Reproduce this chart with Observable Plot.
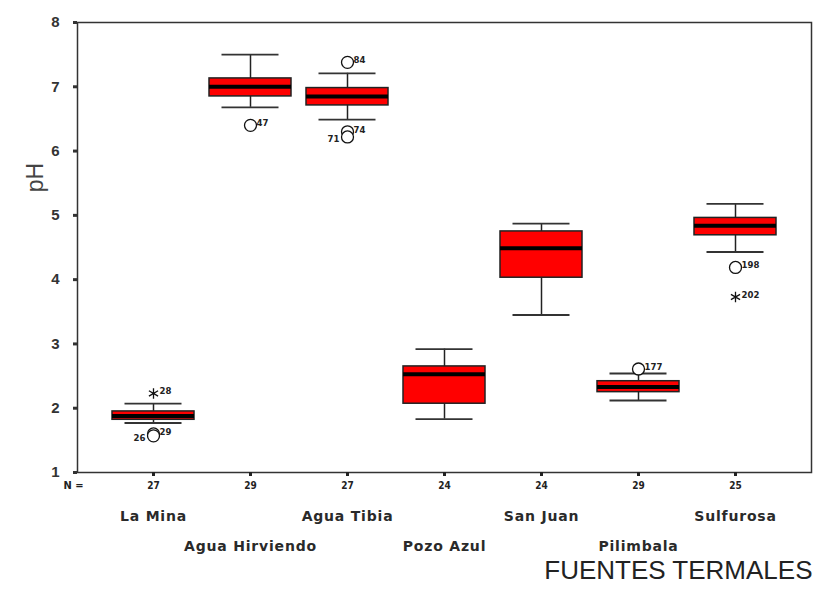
<!DOCTYPE html>
<html><head><meta charset="utf-8">
<script src="https://cdn.jsdelivr.net/npm/d3@7"></script>
<script src="https://cdn.jsdelivr.net/npm/@observablehq/plot@0.6"></script>
<style>body{margin:0;background:#fff}</style>
</head><body><div id="chart"></div>
<script>
const fuentes = ["La Mina","Agua Hirviendo","Agua Tibia","Pozo Azul","San Juan","Pilimbala","Sulfurosa"];
const nCount  = [27, 29, 27, 24, 24, 29, 25];
const lowW    = [1.77, 6.68, 6.49, 1.83, 3.45, 2.12, 4.43];
const q1      = [1.82, 6.85, 6.71, 2.07, 4.03, 2.25, 4.69];
const median  = [1.88, 7.00, 6.85, 2.53, 4.49, 2.33, 4.84];
const q3      = [1.95, 7.13, 6.98, 2.65, 4.75, 2.42, 4.96];
const highW   = [2.07, 7.50, 7.21, 2.92, 4.87, 2.54, 5.18];
// outliers
const outFuente = ["La Mina","La Mina","La Mina","Agua Hirviendo","Agua Tibia","Agua Tibia","Agua Tibia","Pilimbala","Sulfurosa","Sulfurosa"];
const outValue  = [2.23, 1.60, 1.57, 6.40, 7.38, 6.30, 6.22, 2.61, 4.19, 3.73];
const outLabel  = ["28", "29", "26", "47", "84", "74", "71", "177", "198", "202"];
const outKind   = ["extreme","outlier","outlier","outlier","outlier","outlier","outlier","outlier","outlier","extreme"];
const yTicks = [1,2,3,4,5,6,7,8];

const boxes = fuentes.map((f,i)=>({f, n:nCount[i], lo:lowW[i], q1:q1[i], med:median[i], q3:q3[i], hi:highW[i]}));
const outs = outFuente.map((f,i)=>({f, v:outValue[i], lab:outLabel[i], kind:outKind[i]}));
// second label of a stacked pair goes on the left of its marker
const stacked = outs.filter((d,i)=> i>0 && outs[i-1].f===d.f && Math.abs(outs[i-1].v-d.v)<0.1);
const single = outs.filter(d=>!stacked.includes(d));
const nMap = new Map(boxes.map(b=>[b.f,b.n]));
const even = fuentes.filter((d,i)=>i%2===0);
const odd = fuentes.filter((d,i)=>i%2===1);
const smallFont = "DejaVu Sans Condensed, DejaVu Sans, sans-serif";
const nameStyle = {tickSize: 0, fontSize: 14, fontWeight: "bold", fontFamily: "DejaVu Sans, sans-serif", color: "#2a2a2a", label: null};

const chart = Plot.plot({
  width: 816, height: 590,
  marginLeft: 77, marginRight: 5, marginTop: 22, marginBottom: 118,
  style: {fontFamily: "Liberation Sans, Arial, sans-serif", background: "#fff"},
  x: {type: "band", domain: fuentes, paddingInner: 0.155, paddingOuter: 0.361},
  y: {domain: [1, 8]},
  marks: [
    Plot.frame({stroke: "#333", strokeWidth: 1.5}),
    Plot.ruleX(boxes, {x: "f", y1: "lo", y2: "hi", stroke: "#222", strokeWidth: 1.5}),
    Plot.tickY(boxes, {x: "f", y: "lo", stroke: "#333", strokeWidth: 1.8, insetLeft: 12.5, insetRight: 12.5}),
    Plot.tickY(boxes, {x: "f", y: "hi", stroke: "#333", strokeWidth: 1.8, insetLeft: 12.5, insetRight: 12.5}),
    Plot.barY(boxes, {x: "f", y1: "q1", y2: "q3", fill: "#ff0000", stroke: "#222", strokeWidth: 1.5}),
    Plot.tickY(boxes, {x: "f", y: "med", stroke: "#000", strokeWidth: 4}),
    Plot.dot(outs.filter(d=>d.kind==="outlier"), {x: "f", y: "v", r: 6, stroke: "#111", strokeWidth: 1.3, fill: "#fff"}),
    Plot.dot(outs.filter(d=>d.kind==="extreme"), {x: "f", y: "v", r: 5, symbol: "asterisk", stroke: "#111", strokeWidth: 1.3}),
    Plot.text(single, {x: "f", y: "v", text: "lab", dx: 6, dy: -2, textAnchor: "start", fontSize: 9.5, fontWeight: "bold", fill: "#222", fontFamily: smallFont}),
    Plot.text(stacked, {x: "f", y: "v", text: "lab", dx: -8, dy: 2, textAnchor: "end", fontSize: 9.5, fontWeight: "bold", fill: "#222", fontFamily: smallFont}),
    Plot.axisY({ticks: yTicks, tickFormat: d3.format("d"), tickSize: 4, tickPadding: 14, strokeWidth: 3, fontSize: 15, fontWeight: "bold", color: "#333", label: null}),
    Plot.axisX({tickSize: 4, tickPadding: 5, strokeWidth: 3, tickFormat: d => nMap.get(d), fontSize: 10, fontWeight: "bold", fontFamily: smallFont, color: "#222", label: null}),
    Plot.axisX({...nameStyle, ticks: even, tickPadding: 39}),
    Plot.axisX({...nameStyle, ticks: odd, tickPadding: 69}),
    Plot.text(["pH"], {frameAnchor: "left", dx: -42, dy: -70, rotate: -90, fontSize: 23, fill: "#444", textAnchor: "middle"}),
    Plot.text(["N ="], {frameAnchor: "bottom-left", dx: -14, dy: 16, fontSize: 11, fontWeight: "bold", fill: "#222", fontFamily: smallFont}),
    Plot.text(["FUENTES TERMALES"], {frameAnchor: "bottom-right", dx: 1, dy: 106, textAnchor: "end", fontSize: 26, fill: "#222"})
  ]
});
// letter spacing for the category-name rows (2nd and 3rd x-axis label groups)
d3.select(chart).selectAll("g[aria-label='x-axis tick label']")
  .filter((d, i) => i > 0)
  .attr("letter-spacing", "0.8px");
document.getElementById("chart").appendChild(chart);
</script>
</body></html>
